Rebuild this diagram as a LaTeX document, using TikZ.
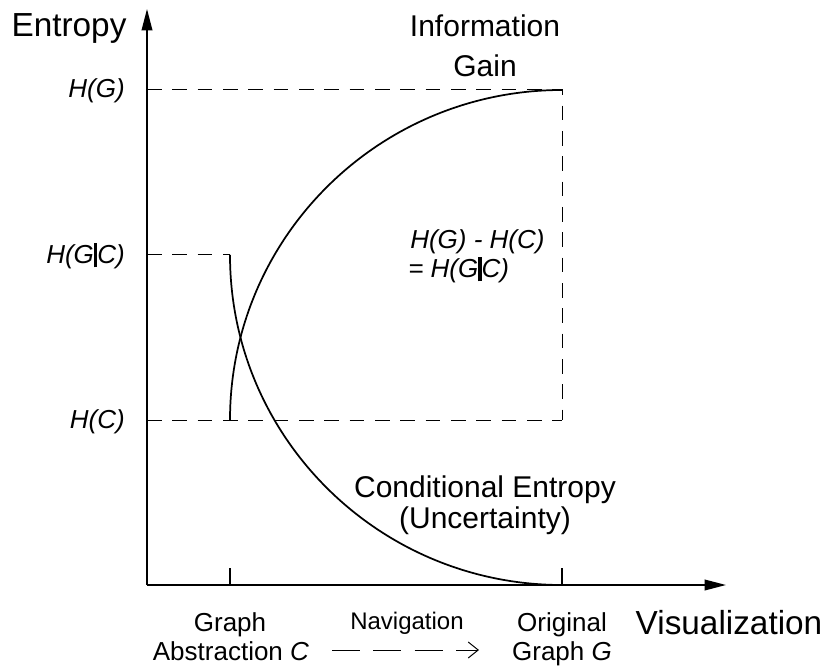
\documentclass[tikz,border=0pt]{standalone}
\usepackage{fontspec}
\setmainfont{Liberation Sans}
\usetikzlibrary{arrows.meta}
\newcommand{\condbar}{\rule[-0.17em]{0.13em}{0.95em}}
\tikzset{
  axis/.style={line width=1.1pt, -{Triangle[length=16pt,width=8pt]}},
  guide/.style={line width=0.75pt, dash pattern=on 11pt off 8pt},
  curve/.style={line width=1.3pt},
  tick/.style={line width=0.9pt},
  titlelabel/.style={font=\fontsize{25}{30}\selectfont, anchor=base, inner sep=0pt},
  biglabel/.style={font=\fontsize{22.5}{28}\selectfont, anchor=base, inner sep=0pt},
  smalllabel/.style={font=\fontsize{19.5}{23}\selectfont, anchor=base, inner sep=0pt},
  levellabel/.style={font=\fontsize{19.5}{23}\selectfont\itshape, anchor=base east, inner sep=0pt},
  navarrow/.style={line width=0.75pt, dash pattern=on 21pt off 10pt, -{Straight Barb[length=7.5pt,width=12pt]}},
}
\begin{document}
\begin{tikzpicture}[x=0.75pt, y=-0.75pt]
\useasboundingbox (0,0) rectangle (831,670);

% axes
\coordinate (O) at (147,585);
\coordinate (ytop) at (147,9);
\coordinate (xend) at (726,585);
\draw[axis] (O) -- (ytop);
\draw[axis] (O) -- (xend);

% ticks on the x axis
\coordinate (tC) at (230,585);
\coordinate (tG) at (562,585);
\coordinate (tCt) at (230,568);
\coordinate (tGt) at (562,568);
\draw[tick] (tC) -- (tCt);
\draw[tick] (tG) -- (tGt);

% entropy levels
\coordinate (hG0) at (147,90);
\coordinate (hG1) at (562,90);
\coordinate (hC0) at (147,420);
\coordinate (hC1) at (562,420);
\coordinate (hGC0) at (147,255);
\coordinate (hGC1) at (230,255);
\draw[guide] (hG0) -- (hG1) -- (hC1);
\draw[guide] (hC0) -- (hC1);
\draw[guide] (hGC0) -- (hGC1);

% information gain and conditional entropy curves
\coordinate (igStart) at (230,420);
\coordinate (ceStart) at (230,255);
\draw[curve] (igStart) arc[start angle=180, end angle=90, x radius=332, y radius=-330];
\draw[curve] (ceStart) arc[start angle=180, end angle=270, x radius=332, y radius=-330];

% axis titles
\node[titlelabel] (ylab) at (69,37) {Entropy};
\node[titlelabel] (xlab) at (729,634) {Visualization};
\node[biglabel] (ig1) at (485,37) {Information};
\node[biglabel] (ig2) at (485,77) {Gain};
\node[biglabel] (ce1) at (485,497) {Conditional Entropy};
\node[biglabel] (ce2) at (485,528) {(Uncertainty)};

% level labels
\node[levellabel] (lHG) at (125,98) {H(G)};
\node[levellabel] (lHGC) at (125,263) {H(G\condbar C)};
\node[levellabel] (lHC) at (125,428) {H(C)};
\node[smalllabel, anchor=base west, font=\fontsize{19.5}{23}\selectfont\itshape] (diff1) at (410,248) {H(G) - H(C)};
\node[smalllabel, anchor=base west, font=\fontsize{19.5}{23}\selectfont\itshape] (diff2) at (408,277) {= H(G\condbar C)};

% x axis labels
\node[smalllabel] (lC1) at (230,631) {Graph};
\node[smalllabel] (lC2) at (231,660) {Abstraction \textit{C}};
\node[smalllabel] (lG1) at (562,631) {Original};
\node[smalllabel] (lG2) at (562,660) {Graph \textit{G}};
\node[smalllabel, font=\fontsize{18}{22}\selectfont] (nav) at (407,629) {Navigation};
\coordinate (navA) at (332,650);
\coordinate (navB) at (479,650);
\draw[navarrow] (navA) -- (navB);
\end{tikzpicture}
\end{document}
